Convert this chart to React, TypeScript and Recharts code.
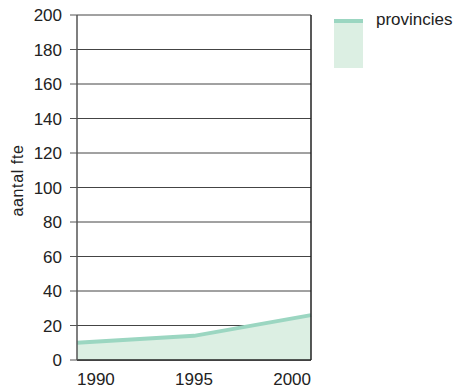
import React from 'react';
import { AreaChart, Area, XAxis, YAxis, CartesianGrid, ReferenceLine } from 'recharts';

const years = [1990, 1995, 2000];
const provincies = [10, 14, 26];
const yTicks = [0, 20, 40, 60, 80, 100, 120, 140, 160, 180, 200];
const seriesName = 'provincies';
const yLabel = 'aantal fte';

const data = years.map((year, i) => ({ year, provincies: provincies[i] }));

const LINE = '#9bd6c1';
const FILL = '#dcefe3';
const INK = '#222';

const XTick = (props: any) => {
  const { x, y, payload, index } = props;
  const anchor = index === 0 ? 'start' : index === years.length - 1 ? 'end' : 'middle';
  return (
    <text x={x} y={y} dy={25} textAnchor={anchor} fill={INK} fontSize={17}>
      {payload.value}
    </text>
  );
};

export default function App() {
  return (
    <div style={{ position: 'absolute', left: 0, top: 0, width: 458, height: 390, background: '#fff', fontFamily: '"Liberation Sans", Arial, sans-serif' }}>
      <AreaChart width={458} height={390} data={data} margin={{ top: 15, right: 147, bottom: 0, left: 0 }}>
        <CartesianGrid horizontal vertical={false} stroke="#444" strokeWidth={1} />
        <XAxis
          dataKey="year"
          type="number"
          domain={[1990, 2000]}
          ticks={years}
          height={30}
          tickLine={false}
          tickSize={0}
          tickMargin={0}
          axisLine={{ stroke: INK, strokeWidth: 1.5 }}
          tick={<XTick />}
        />
        <YAxis
          domain={[0, 200]}
          ticks={yTicks}
          width={77}
          tickSize={7}
          tickMargin={8}
          axisLine={{ stroke: '#555', strokeWidth: 1.5 }}
          tickLine={{ stroke: '#555' }}
          tick={{ fill: INK, fontSize: 17 }}
          label={{
            content: (p: any) => {
              const vb = p.viewBox;
              const cx = vb.x + 19;
              const cy = vb.y + vb.height / 2 - 7;
              return (
                <text x={cx} y={cy} transform={`rotate(-90, ${cx}, ${cy})`} textAnchor="middle" dominantBaseline="middle" fill={INK} fontSize={16} letterSpacing={0.6}>
                  {yLabel}
                </text>
              );
            },
          }}
        />
        <Area
          type="linear"
          dataKey="provincies"
          name={seriesName}
          stroke={LINE}
          strokeWidth={4}
          fill={FILL}
          fillOpacity={1}
          isAnimationActive={false}
          dot={false}
          activeDot={false}
        />
        <ReferenceLine x={2000} stroke={INK} strokeWidth={1.5} />
      </AreaChart>
      <div style={{ position: 'absolute', left: 334, top: 15, width: 120, height: 60 }}>
        <div style={{ position: 'absolute', left: 0, top: 4, width: 29, height: 4, background: LINE }} />
        <div style={{ position: 'absolute', left: 0, top: 8, width: 29, height: 45, background: FILL }} />
        <div style={{ position: 'absolute', left: 42, top: -5, fontSize: 17, color: INK, whiteSpace: 'nowrap' }}>{seriesName}</div>
      </div>
    </div>
  );
}
